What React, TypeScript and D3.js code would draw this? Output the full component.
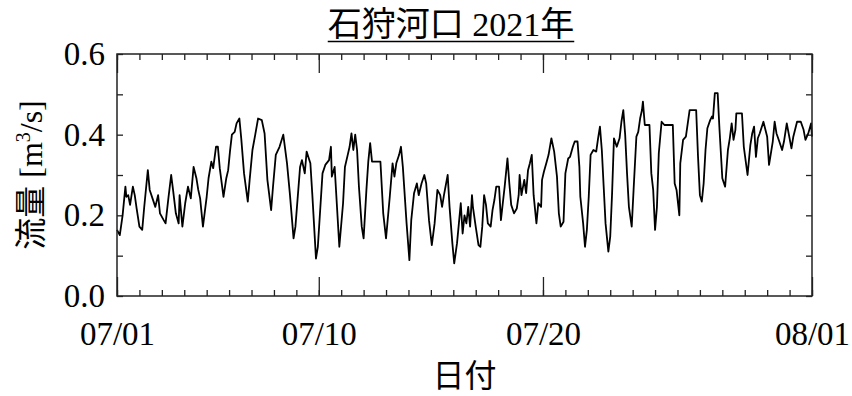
import React, { useEffect, useRef } from "react";
import * as d3 from "d3";

// hours since 2021-07-01 00:00
const hours = [
  0, 3, 6, 9, 10, 12, 14, 17, 19, 21, 24, 27, 29, 33, 35, 38, 41, 44, 46, 50,
  52, 55, 58, 60, 63, 66, 67, 70, 73, 76, 79, 82, 85, 87, 89, 92, 96, 98, 101, 103,
  106, 108, 110, 114, 117, 119, 121, 123, 126, 128, 131, 133, 136, 140, 142, 145, 148, 151, 155, 158,
  161, 165, 167, 170, 174, 178, 182, 185, 189, 191, 196, 198, 201, 203, 207, 209, 213, 215, 220, 223,
  227, 229, 230, 233, 238, 242, 244, 247, 249, 251, 253, 255, 257, 259, 262, 264, 267, 269, 271, 273,
  282, 285, 288, 292, 295, 297, 299, 302, 304, 306, 310, 313, 315, 318, 321, 323, 326, 329, 331, 334,
  337, 340, 343, 346, 348, 350, 354, 356, 359, 361, 364, 366, 368, 370, 372, 374, 376, 378, 380, 381,
  384, 387, 389, 391, 393, 395, 397, 400, 402, 404, 406, 409, 411, 413, 415, 418, 420, 422, 425, 428,
  430, 431, 433, 436, 438, 440, 442, 444, 446, 449, 451, 454, 455, 457, 460, 462, 465, 468, 471, 473,
  475, 478, 480, 483, 485, 488, 490, 493, 495, 496, 499, 501, 503, 505, 507, 510, 513, 515, 517, 519,
  521, 523, 526, 528, 530, 532, 535, 538, 540, 542, 544, 546, 548, 551, 553, 556, 558, 560, 562, 563,
  565, 570, 572, 574, 576, 578, 580, 583, 586, 595, 597, 599, 600, 602, 603, 606, 609, 611, 613, 620,
  622, 624, 626, 628, 630, 632, 635, 637, 638, 640, 643, 645, 648, 651, 654, 656, 658, 660, 662, 663,
  669, 671, 675, 678, 680, 682, 684, 686, 688, 692, 696, 698, 702, 704, 706, 709, 712, 714, 717, 719,
  722, 724, 728, 732, 735, 737, 740, 743, 744,
];

// flow [m3/s]
const flow = [
  0.164, 0.151, 0.2, 0.271, 0.246, 0.25, 0.226, 0.271, 0.25, 0.217, 0.172, 0.164, 0.217, 0.312, 0.263, 0.242, 0.221, 0.25, 0.205, 0.188,
  0.18, 0.242, 0.3, 0.263, 0.205, 0.18, 0.25, 0.172, 0.23, 0.271, 0.242, 0.32, 0.292, 0.263, 0.242, 0.172, 0.246, 0.292, 0.333, 0.317,
  0.37, 0.37, 0.317, 0.246, 0.292, 0.312, 0.36, 0.4, 0.407, 0.428, 0.44, 0.391, 0.304, 0.234, 0.288, 0.362, 0.4, 0.44, 0.436, 0.403,
  0.288, 0.213, 0.271, 0.35, 0.37, 0.4, 0.329, 0.255, 0.143, 0.172, 0.32, 0.337, 0.304, 0.358, 0.329, 0.255, 0.093, 0.122, 0.304, 0.325,
  0.337, 0.37, 0.296, 0.32, 0.122, 0.23, 0.32, 0.35, 0.37, 0.403, 0.362, 0.4, 0.362, 0.271, 0.172, 0.143, 0.263, 0.333, 0.379, 0.333,
  0.333, 0.205, 0.143, 0.246, 0.329, 0.296, 0.329, 0.35, 0.37, 0.32, 0.18, 0.089, 0.188, 0.255, 0.279, 0.25, 0.279, 0.3, 0.279, 0.188,
  0.126, 0.18, 0.263, 0.25, 0.221, 0.25, 0.3, 0.221, 0.131, 0.081, 0.131, 0.18, 0.23, 0.155, 0.2, 0.18, 0.221, 0.172, 0.25, 0.221,
  0.172, 0.126, 0.122, 0.172, 0.25, 0.226, 0.18, 0.172, 0.213, 0.238, 0.271, 0.271, 0.188, 0.23, 0.271, 0.341, 0.279, 0.226, 0.205, 0.217,
  0.25, 0.3, 0.25, 0.288, 0.255, 0.312, 0.329, 0.35, 0.25, 0.18, 0.23, 0.221, 0.288, 0.308, 0.333, 0.35, 0.391, 0.358, 0.296, 0.205,
  0.172, 0.184, 0.304, 0.341, 0.345, 0.37, 0.383, 0.383, 0.32, 0.246, 0.18, 0.122, 0.164, 0.246, 0.35, 0.362, 0.358, 0.391, 0.42, 0.362,
  0.271, 0.18, 0.11, 0.147, 0.255, 0.391, 0.37, 0.391, 0.432, 0.461, 0.4, 0.304, 0.221, 0.172, 0.263, 0.395, 0.407, 0.44, 0.461, 0.482,
  0.424, 0.424, 0.304, 0.263, 0.164, 0.221, 0.354, 0.432, 0.424, 0.424, 0.279, 0.263, 0.242, 0.2, 0.329, 0.387, 0.395, 0.428, 0.461, 0.461,
  0.345, 0.25, 0.234, 0.279, 0.362, 0.416, 0.436, 0.445, 0.44, 0.503, 0.503, 0.412, 0.292, 0.271, 0.362, 0.391, 0.428, 0.387, 0.412, 0.453,
  0.453, 0.37, 0.3, 0.374, 0.403, 0.42, 0.345, 0.391, 0.403, 0.432, 0.395, 0.325, 0.383, 0.432, 0.403, 0.383, 0.362, 0.383, 0.428, 0.403,
  0.366, 0.395, 0.432, 0.432, 0.412, 0.387, 0.403, 0.428, 0.395,
];

const xTickDays = ["2021-07-01", "2021-07-10", "2021-07-20", "2021-08-01"];
const xTickLabels = ["07/01", "07/10", "07/20", "08/01"];
const yTickValues = [0, 0.2, 0.4, 0.6];
const yMinorValues = [0.1, 0.3, 0.5];

const FONT = "'Liberation Serif', 'Times New Roman', 'Noto Sans CJK JP', serif";

export default function App() {
  const ref = useRef<SVGSVGElement>(null);

  useEffect(() => {
    const start = new Date(Date.UTC(2021, 6, 1));
    const end = new Date(Date.UTC(2021, 7, 1));
    const data = hours.map((h, i) => ({
      t: new Date(start.getTime() + h * 3600 * 1000),
      v: flow[i],
    }));

    var margin = { top: 54, right: 40, bottom: 100, left: 117 },
      w = 852 - margin.left - margin.right,
      h = 396 - margin.top - margin.bottom;

    const svg = d3.select(ref.current);
    svg.selectAll("*").remove();

    const g = svg
      .append("g")
      .attr("transform", `translate(${margin.left}, ${margin.top})`);

    const x = d3.scaleUtc().domain([start, end]).range([0, w]);
    const y = d3.scaleLinear().domain([0, 0.6]).range([h, 0]);

    const tickDates = xTickDays.map((d) => new Date(d + "T00:00:00Z"));
    const dailyTicks = d3.utcDay.range(start, end).concat([end]);

    const style = (sel: any) => {
      sel.select(".domain").remove();
      sel.selectAll("line").attr("stroke", "#222").attr("stroke-width", 1.3);
      sel
        .selectAll("text")
        .attr("font-family", FONT)
        .attr("font-size", 33)
        .attr("fill", "#000");
    };

    // daily minor ticks, bottom and top
    g.append("g")
      .attr("transform", `translate(0, ${h})`)
      .call(d3.axisBottom(x).tickValues(dailyTicks).tickSize(-6).tickFormat(() => ""))
      .call(style);
    g.append("g")
      .call(d3.axisTop(x).tickValues(dailyTicks).tickSize(-6).tickFormat(() => ""))
      .call(style);

    // major ticks with labels
    g.append("g")
      .attr("transform", `translate(0, ${h})`)
      .call(
        d3
          .axisBottom(x)
          .tickValues(tickDates)
          .tickSize(-19)
          .tickPadding(26)
          .tickFormat((d, i) => xTickLabels[i])
      )
      .call(style);
    g.append("g")
      .call(d3.axisTop(x).tickValues(tickDates).tickSize(-19).tickFormat(() => ""))
      .call(style);

    // y ticks, left (labelled) and right
    g.append("g")
      .call(
        d3
          .axisLeft(y)
          .tickValues(yTickValues)
          .tickSize(-6)
          .tickPadding(12)
          .tickFormat(d3.format(".1f"))
      )
      .call(style);
    g.append("g")
      .call(d3.axisLeft(y).tickValues(yMinorValues).tickSize(-6).tickFormat(() => ""))
      .call(style);
    g.append("g")
      .attr("transform", `translate(${w}, 0)`)
      .call(
        d3
          .axisRight(y)
          .tickValues(yTickValues.concat(yMinorValues))
          .tickSize(-6)
          .tickFormat(() => "")
      )
      .call(style);

    // flow line
    const line = d3
      .line<{ t: Date; v: number }>()
      .x((d) => x(d.t))
      .y((d) => y(d.v));

    g.append("path")
      .datum(data)
      .attr("fill", "none")
      .attr("stroke", "#000")
      .attr("stroke-width", 1.8)
      .attr("stroke-linejoin", "round")
      .attr("d", line);

    // frame
    g.append("rect")
      .attr("width", w)
      .attr("height", h)
      .attr("fill", "none")
      .attr("stroke", "#222")
      .attr("stroke-width", 1.5);

    // X-axis label
    g.append("text")
      .attr("text-anchor", "middle")
      .attr("x", w / 2)
      .attr("y", h + 91)
      .attr("font-family", FONT)
      .attr("font-size", 32)
      .text("日付");

    // Y-axis label
    const yl = g
      .append("text")
      .attr("text-anchor", "middle")
      .attr("transform", `translate(${-75}, ${h / 2}) rotate(-90)`)
      .attr("font-family", FONT)
      .attr("font-size", 32);
    yl.append("tspan").text("流量 [m");
    yl.append("tspan").attr("font-size", 20).attr("dy", -12).text("3");
    yl.append("tspan").attr("dy", 12).text("/s]");

    // Title with underline
    const title = svg
      .append("text")
      .attr("text-anchor", "middle")
      .attr("x", 451)
      .attr("y", 36)
      .attr("font-family", FONT)
      .attr("font-size", 34)
      .text("石狩河口 2021年");
    const tw = (title.node() as SVGTextElement).getComputedTextLength();
    svg
      .append("line")
      .attr("x1", 451 - tw / 2)
      .attr("x2", 451 + tw / 2)
      .attr("y1", 41.5)
      .attr("y2", 41.5)
      .attr("stroke", "#000")
      .attr("stroke-width", 1.6);
  }, []);

  return (
    <svg
      ref={ref}
      width={852}
      height={396}
      style={{ position: "absolute", left: 0, top: 0, background: "#fff" }}
    ></svg>
  );
}
